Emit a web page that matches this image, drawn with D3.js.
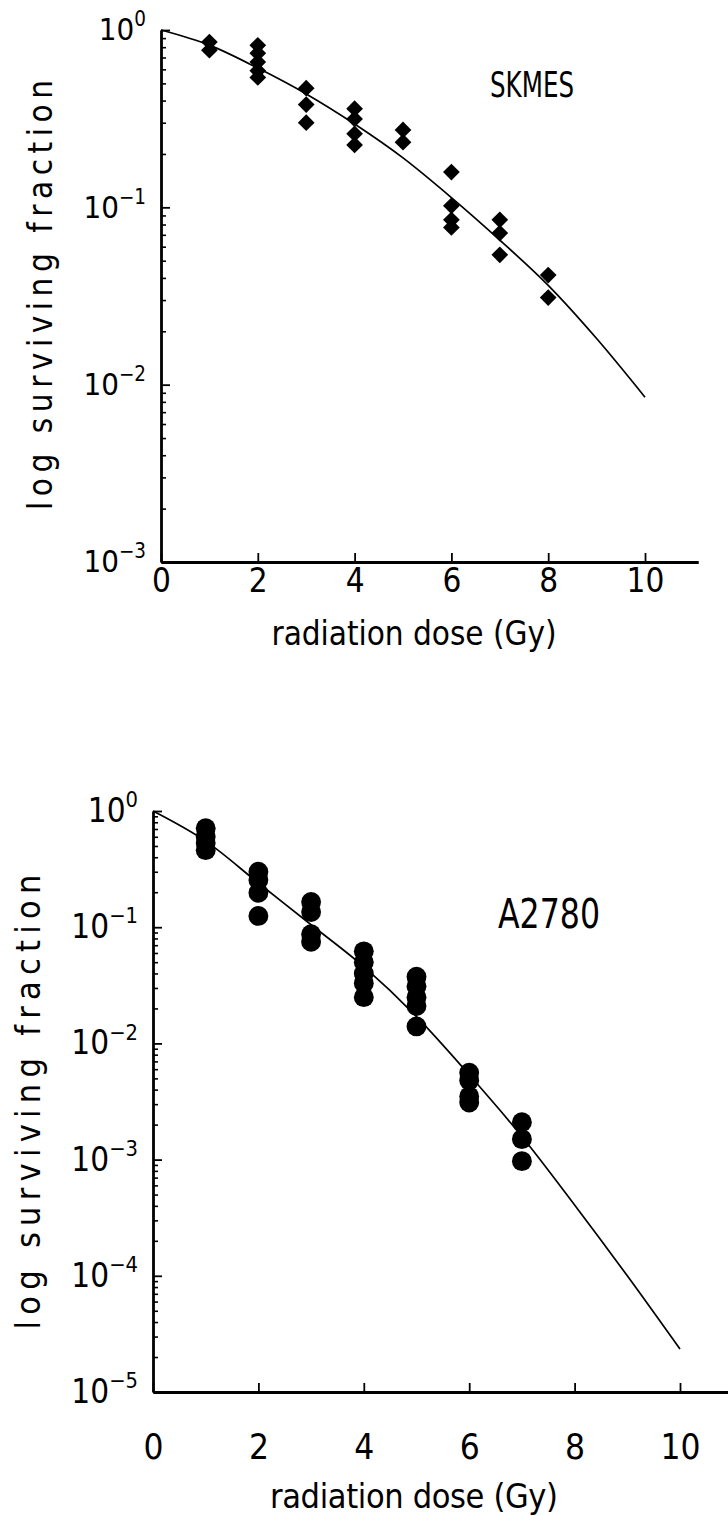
<!DOCTYPE html>
<html>
<head>
<meta charset="utf-8">
<script src="https://cdn.jsdelivr.net/npm/d3@7"></script>
<style>
  html, body { margin: 0; padding: 0; background: #fff; }
  svg text { font-family: "Liberation Sans Narrow", "Arial Narrow", "DejaVu Sans Condensed", "Liberation Sans", sans-serif; fill: #000; }
</style>
</head>
<body>
<svg id="chart" width="728" height="1516"></svg>
<script>
// ---- shared axis values ----
const doseTicks = [0, 2, 4, 6, 8, 10];

// ---- SKMES: replicate surviving fractions per dose (Gy) ----
const skmesDose = [1, 1,
  2, 2, 2, 2, 2,
  3, 3, 3,
  4, 4, 4, 4,
  5, 5,
  6, 6, 6, 6,
  7, 7, 7,
  8, 8];
const skmesSurvival = [0.855, 0.77,
  0.82, 0.74, 0.66, 0.59, 0.54,
  0.47, 0.38, 0.30,
  0.36, 0.315, 0.26, 0.225,
  0.273, 0.233,
  0.158, 0.102, 0.085, 0.077,
  0.085, 0.0716, 0.054,
  0.0415, 0.031];
// fitted survival curve
const skmesFitDose = [0, 1, 2, 3, 4, 5, 6, 7, 8, 9, 10];
const skmesFit = [1, 0.822, 0.61, 0.436, 0.295, 0.19, 0.1135, 0.0653, 0.0363, 0.0182, 0.0085];
const skmesDecades = [1, 1e-1, 1e-2, 1e-3];
const skmesExponents = ["0", "\u22121", "\u22122", "\u22123"];

// ---- A2780 ----
const a2780Dose = [1, 1, 1, 1,
  2, 2, 2, 2,
  3, 3, 3, 3,
  4, 4, 4, 4, 4,
  5, 5, 5, 5, 5,
  6, 6, 6, 6,
  7, 7, 7];
const a2780Survival = [0.71, 0.60, 0.53, 0.46,
  0.30, 0.255, 0.198, 0.125,
  0.165, 0.135, 0.087, 0.075,
  0.062, 0.050, 0.040, 0.033, 0.025,
  0.0375, 0.031, 0.025, 0.021, 0.014,
  0.0056, 0.0048, 0.0035, 0.0031,
  0.0021, 0.0015, 0.00097];
const a2780FitDose = [0, 1, 2, 3, 4, 5, 6, 7, 8, 9, 10];
const a2780Fit = [1, 0.55, 0.24, 0.105, 0.0457, 0.017, 0.00537, 0.00158, 4.07e-4, 1.0e-4, 2.34e-5];
const a2780Decades = [1, 1e-1, 1e-2, 1e-3, 1e-4, 1e-5];
const a2780Exponents = ["0", "\u22121", "\u22122", "\u22123", "\u22124", "\u22125"];

const svg = d3.select("#chart");

function drawPanel(p) {
  const g = svg.append("g");
  const x = d3.scaleLinear().domain([0, p.xMax]).range([p.left, p.left + p.xMax * p.perGy]);
  const y = d3.scaleLog().domain([p.decades[p.decades.length - 1], 1]).range([p.bottom, p.top]);

  // minor log ticks (2..9 within every decade)
  const minor = [];
  p.decades.slice(0, -1).forEach(d => { for (let m = 2; m <= 9; m++) minor.push(d / 10 * m); });

  const minorAxis = g.append("g")
    .attr("transform", `translate(${p.left},0)`)
    .call(d3.axisLeft(y).tickValues(minor).tickSize(-5).tickFormat(""));
  minorAxis.select(".domain").remove();
  minorAxis.selectAll("line").attr("stroke", "#000").attr("stroke-width", 1.6);

  const yAxis = g.append("g")
    .attr("transform", `translate(${p.left},0)`)
    .call(d3.axisLeft(y).tickValues(p.decades).tickSize(-9).tickSizeOuter(0).tickPadding(15).tickFormat(""));
  yAxis.select(".domain").attr("stroke", "#000").attr("stroke-width", 2.8);
  yAxis.selectAll("line").attr("stroke", "#000").attr("stroke-width", 1.8);
  yAxis.selectAll("text")
    .attr("font-size", p.tickFont)
    .attr("font-family", null)
    .each(function (d, i) {
      const t = d3.select(this).text(null);
      t.append("tspan").text("10");
      t.append("tspan").attr("dy", -p.tickFont * 0.45).attr("font-size", p.tickFont * 0.66).text(p.exponents[i]);
    });

  const xAxis = g.append("g")
    .attr("transform", `translate(0,${p.bottom})`)
    .call(d3.axisBottom(x).tickValues(doseTicks).tickSize(-9).tickSizeOuter(0).tickPadding(p.xTickPad));
  xAxis.select(".domain").attr("stroke", "#000").attr("stroke-width", 2.8);
  xAxis.selectAll("line").attr("stroke", "#000").attr("stroke-width", 1.8);
  xAxis.selectAll("text").attr("font-size", p.xTickFont).attr("font-family", null);

  // fitted curve
  const line = d3.line().x(d => x(d[0])).y(d => y(d[1])).curve(d3.curveMonotoneX);
  g.append("path")
    .datum(p.fitDose.map((d, i) => [d, p.fit[i]]))
    .attr("d", line)
    .attr("fill", "none")
    .attr("stroke", "#000")
    .attr("stroke-width", 1.7);

  // replicate points
  const sym = d3.symbol().type(p.symbol).size(p.symbolSize);
  g.append("g").selectAll("path")
    .data(p.dose.map((d, i) => [d, p.survival[i]]))
    .join("path")
    .attr("d", sym)
    .attr("transform", d => `translate(${x(d[0])},${y(d[1])}) rotate(${p.symbolRotate})`)
    .attr("fill", "#000");

  // axis titles
  g.append("text")
    .attr("x", p.xTitleX).attr("y", p.xTitleY)
    .attr("text-anchor", "middle")
    .attr("font-size", p.titleFont)
    .attr("textLength", p.xTitleLen)
    .text("radiation dose (Gy)");

  g.append("text")
    .attr("transform", `translate(${p.yTitleX},${p.yTitleY}) rotate(-90)`)
    .attr("text-anchor", "middle")
    .attr("font-size", p.titleFont)
    .attr("textLength", p.yTitleLen)
    .text("log surviving fraction");

  // cell-line label
  g.append("text")
    .attr("x", p.nameX).attr("y", p.nameY)
    .attr("text-anchor", "middle")
    .attr("font-size", p.nameFont)
    .attr("textLength", p.nameLen)
    .attr("lengthAdjust", "spacingAndGlyphs")
    .text(p.name);
}

drawPanel({
  name: "SKMES", dose: skmesDose, survival: skmesSurvival, fitDose: skmesFitDose, fit: skmesFit,
  decades: skmesDecades, exponents: skmesExponents,
  left: 161, perGy: 48.4, xMax: 11.1, top: 30, bottom: 562,
  symbol: d3.symbolSquare, symbolSize: 140, symbolRotate: 45,
  tickFont: 31, xTickFont: 33, xTickPad: 7,
  titleFont: 33, xTitleX: 414, xTitleY: 645, xTitleLen: 285,
  yTitleX: 52, yTitleY: 295, yTitleLen: 430,
  nameX: 532, nameY: 97, nameFont: 36, nameLen: 84
});

drawPanel({
  name: "A2780", dose: a2780Dose, survival: a2780Survival, fitDose: a2780FitDose, fit: a2780Fit,
  decades: a2780Decades, exponents: a2780Exponents,
  left: 153, perGy: 52.7, xMax: 11.2, top: 811, bottom: 1392,
  symbol: d3.symbolCircle, symbolSize: 310, symbolRotate: 0,
  tickFont: 33, xTickFont: 35, xTickPad: 42,
  titleFont: 34, xTitleX: 414, xTitleY: 1508, xTitleLen: 288,
  yTitleX: 40, yTitleY: 1102, yTitleLen: 455,
  nameX: 549, nameY: 928, nameFont: 40, nameLen: 102
});
</script>
</body>
</html>
